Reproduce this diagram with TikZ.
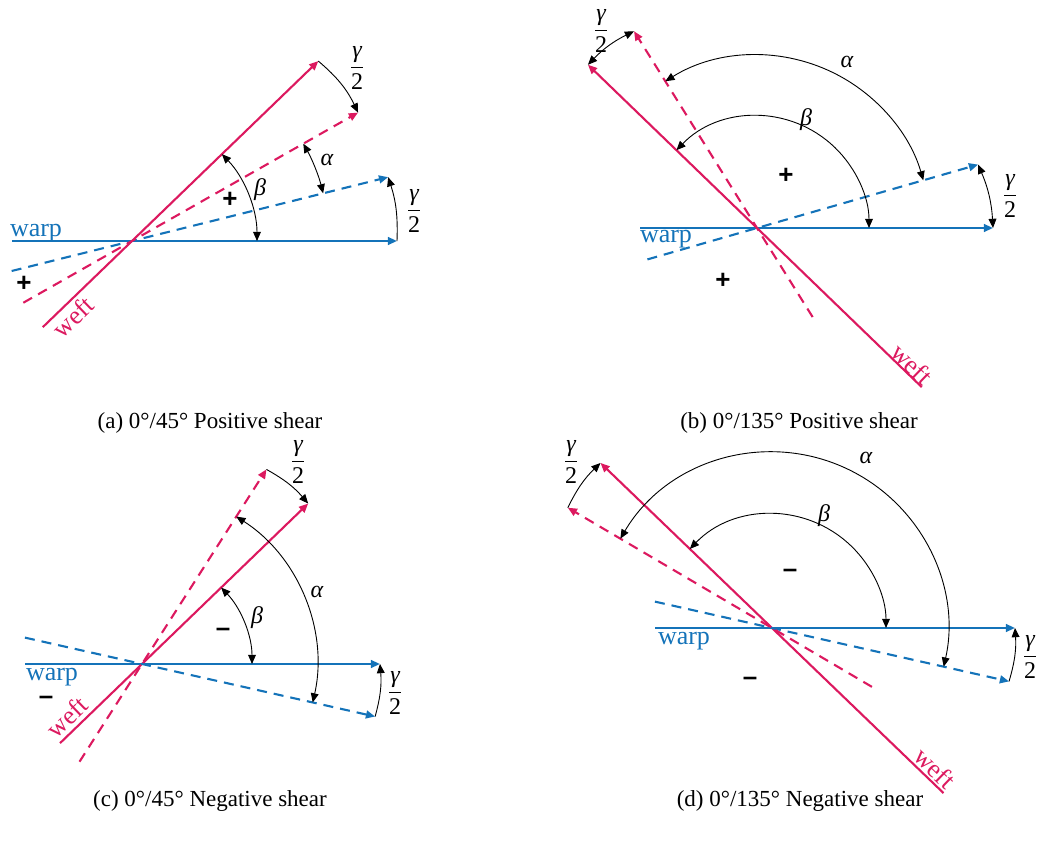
\documentclass[tikz,border=0pt]{standalone}
\usepackage{amsmath}
\usepackage{fontspec}
\setmainfont{Liberation Serif}
\setsansfont{Liberation Sans}
\usepackage{xcolor}
\usetikzlibrary{arrows.meta}
\definecolor{warpblue}{RGB}{20,115,185}
\definecolor{weftred}{RGB}{220,25,95}
\newcommand{\halfgam}{$\dfrac{\textit{γ}}{\text{2}}$}

\begin{document}
\begin{tikzpicture}[x=0.5pt, y=0.5pt,
    >={Triangle[length=4.6pt,width=3.9pt]},
    warpyarn/.style={warpblue, line width=1.05pt},
    weftyarn/.style={weftred, line width=1.05pt},
    sheared/.style={dash pattern=on 5pt off 3.5pt},
    angarc/.style={black, line width=0.45pt},
    yarnlbl/.style={font=\fontsize{13}{15}\selectfont, inner sep=0pt},
    anglbl/.style={font=\itshape\fontsize{12}{14}\selectfont, inner sep=0pt},
    fraclbl/.style={font=\fontsize{12}{14}\selectfont, inner sep=0pt},
    signlbl/.style={font=\sffamily\bfseries\fontsize{13}{15}\selectfont, inner sep=0pt},
    captionlbl/.style={font=\fontsize{11.5}{14}\selectfont}]
    \useasboundingbox (0,0) rectangle (1041,842);

    % (a) 0/45 positive shear
    \begin{scope}[shift={(132,601)}]
        % Original yarns (solid)
        \draw[warpyarn,->] (180:120) -- (0:265) coordinate (aW);
        \draw[weftyarn,->] (224:124) -- (44:259) coordinate (aF);
        % Sheared yarns (dashed)
        \draw[warpyarn,sheared,->] (194:124) -- (14:264) coordinate (aWs);
        \draw[weftyarn,sheared,->] (209.6:125) -- (29.6:260) coordinate (aFs);
        % Angles
        \draw[angarc,<->] (44:125) arc[start angle=44, end angle=0, radius=125];
        \draw[angarc,<->] (29.6:197) arc[start angle=29.6, end angle=14, radius=197];
        \draw[angarc,->] (aF) to[bend left=12] (aFs);
        \draw[angarc,->] (aW) to[bend right=10] (aWs);
        \node[anglbl] (aBeta) at (128,51) {β};
        \node[anglbl] (aAlpha) at (195,81) {α};
        \node[fraclbl] (aGamF) at (225,173) {\halfgam};
        \node[fraclbl] (aGamW) at (282,30) {\halfgam};
        \node[signlbl] (aSignA) at (98,41) {+};
        \node[signlbl] (aSignB) at (-108,-43) {+};
        \node[yarnlbl, warpblue] (aWarp) at (-96,8) {warp};
        \node[yarnlbl, weftred, rotate=44] (aWeft) at (-59,-76) {weft};
    \end{scope}

    % (b) 0/135 positive shear
    \begin{scope}[shift={(757,614)}]
        % Original yarns (solid)
        \draw[warpyarn,->] (180:117) -- (0:236) coordinate (bW);
        \draw[weftyarn,->] (-44:229) -- (136:235) coordinate (bF);
        % Sheared yarns (dashed)
        \draw[warpyarn,sheared,->] (196:114) -- (16:230) coordinate (bWs);
        \draw[weftyarn,sheared,->] (-58:105) -- (122:232) coordinate (bFs);
        % Angles
        \draw[angarc,<->] (136:112) arc[start angle=136, end angle=0, radius=112];
        \draw[angarc,<->] (122:173) arc[start angle=122, end angle=16, radius=173];
        \draw[angarc,<->] (bF) to[bend left=10] (bFs);
        \draw[angarc,<->] (bWs) to[bend left=10] (bW);
        \node[anglbl] (bBeta) at (49,108) {β};
        \node[anglbl] (bAlpha) at (90,166) {α};
        \node[fraclbl] (bGamF) at (-156,197) {\halfgam};
        \node[fraclbl] (bGamW) at (253,32) {\halfgam};
        \node[signlbl] (bSignA) at (29,52) {+};
        \node[signlbl] (bSignB) at (-34,-53) {+};
        \node[yarnlbl, warpblue] (bWarp) at (-91,-11) {warp};
        \node[yarnlbl, weftred, rotate=-44] (bWeft) at (155,-136) {weft};
    \end{scope}

    % (c) 0/45 negative shear
    \begin{scope}[shift={(142,178)}]
        % Original yarns (solid)
        \draw[warpyarn,->] (180:117) -- (0:238) coordinate (cW);
        \draw[weftyarn,->] (224:114) -- (44:231) coordinate (cF);
        % Sheared yarns (dashed)
        \draw[warpyarn,sheared,->] (167.3:120) -- (-12.7:239) coordinate (cWs);
        \draw[weftyarn,sheared,->] (237.4:116) -- (57.4:231) coordinate (cFs);
        % Angles
        \draw[angarc,<->] (44:110) arc[start angle=44, end angle=0, radius=110];
        \draw[angarc,<->] (57.4:175) arc[start angle=57.4, end angle=-12.7, radius=175];
        \draw[angarc,->] (cFs) to[bend left=10] (cF);
        \draw[angarc,->] (cWs) to[bend right=10] (cW);
        \node[anglbl] (cBeta) at (115,46) {β};
        \node[anglbl] (cAlpha) at (175,72) {α};
        \node[fraclbl] (cGamF) at (156,202) {\halfgam};
        \node[fraclbl] (cGamW) at (253,-29) {\halfgam};
        \node[signlbl] (cSignA) at (81,32) {–};
        \node[signlbl] (cSignB) at (-96,-36) {–};
        \node[yarnlbl, warpblue] (cWarp) at (-90,-13) {warp};
        \node[yarnlbl, weftred, rotate=44] (cWeft) at (-75,-53) {weft};
    \end{scope}

    % (d) 0/135 negative shear
    \begin{scope}[shift={(772,214)}]
        % Original yarns (solid)
        \draw[warpyarn,->] (180:117) -- (0:243) coordinate (dW);
        \draw[weftyarn,->] (-43.9:238) -- (136.1:238) coordinate (dF);
        % Sheared yarns (dashed)
        \draw[warpyarn,sheared,->] (167.3:120) -- (-12.7:243) coordinate (dWs);
        \draw[weftyarn,sheared,->] (-30.5:116) -- (149.5:237) coordinate (dFs);
        % Angles
        \draw[angarc,<->] (136.1:114) arc[start angle=136.1, end angle=0, radius=114];
        \draw[angarc,<->] (149.5:176) arc[start angle=149.5, end angle=-12.7, radius=176];
        \draw[angarc,->] (dFs) to[bend left=10] (dF);
        \draw[angarc,->] (dWs) to[bend right=10] (dW);
        \node[anglbl] (dBeta) at (52,112) {β};
        \node[anglbl] (dAlpha) at (94,170) {α};
        \node[fraclbl] (dGamF) at (-201,166) {\halfgam};
        \node[fraclbl] (dGamW) at (258,-29) {\halfgam};
        \node[signlbl] (dSignA) at (18,55) {–};
        \node[signlbl] (dSignB) at (-22,-53) {–};
        \node[yarnlbl, warpblue] (dWarp) at (-88,-13) {warp};
        \node[yarnlbl, weftred, rotate=-44] (dWeft) at (163,-140) {weft};
    \end{scope}

    % Captions
    \node[captionlbl] (capA) at (210,419) {(a) 0°/45° Positive shear};
    \node[captionlbl] (capB) at (799,419) {(b) 0°/135° Positive shear};
    \node[captionlbl] (capC) at (210,41) {(c) 0°/45° Negative shear};
    \node[captionlbl] (capD) at (800,41) {(d) 0°/135° Negative shear};
\end{tikzpicture}
\end{document}
